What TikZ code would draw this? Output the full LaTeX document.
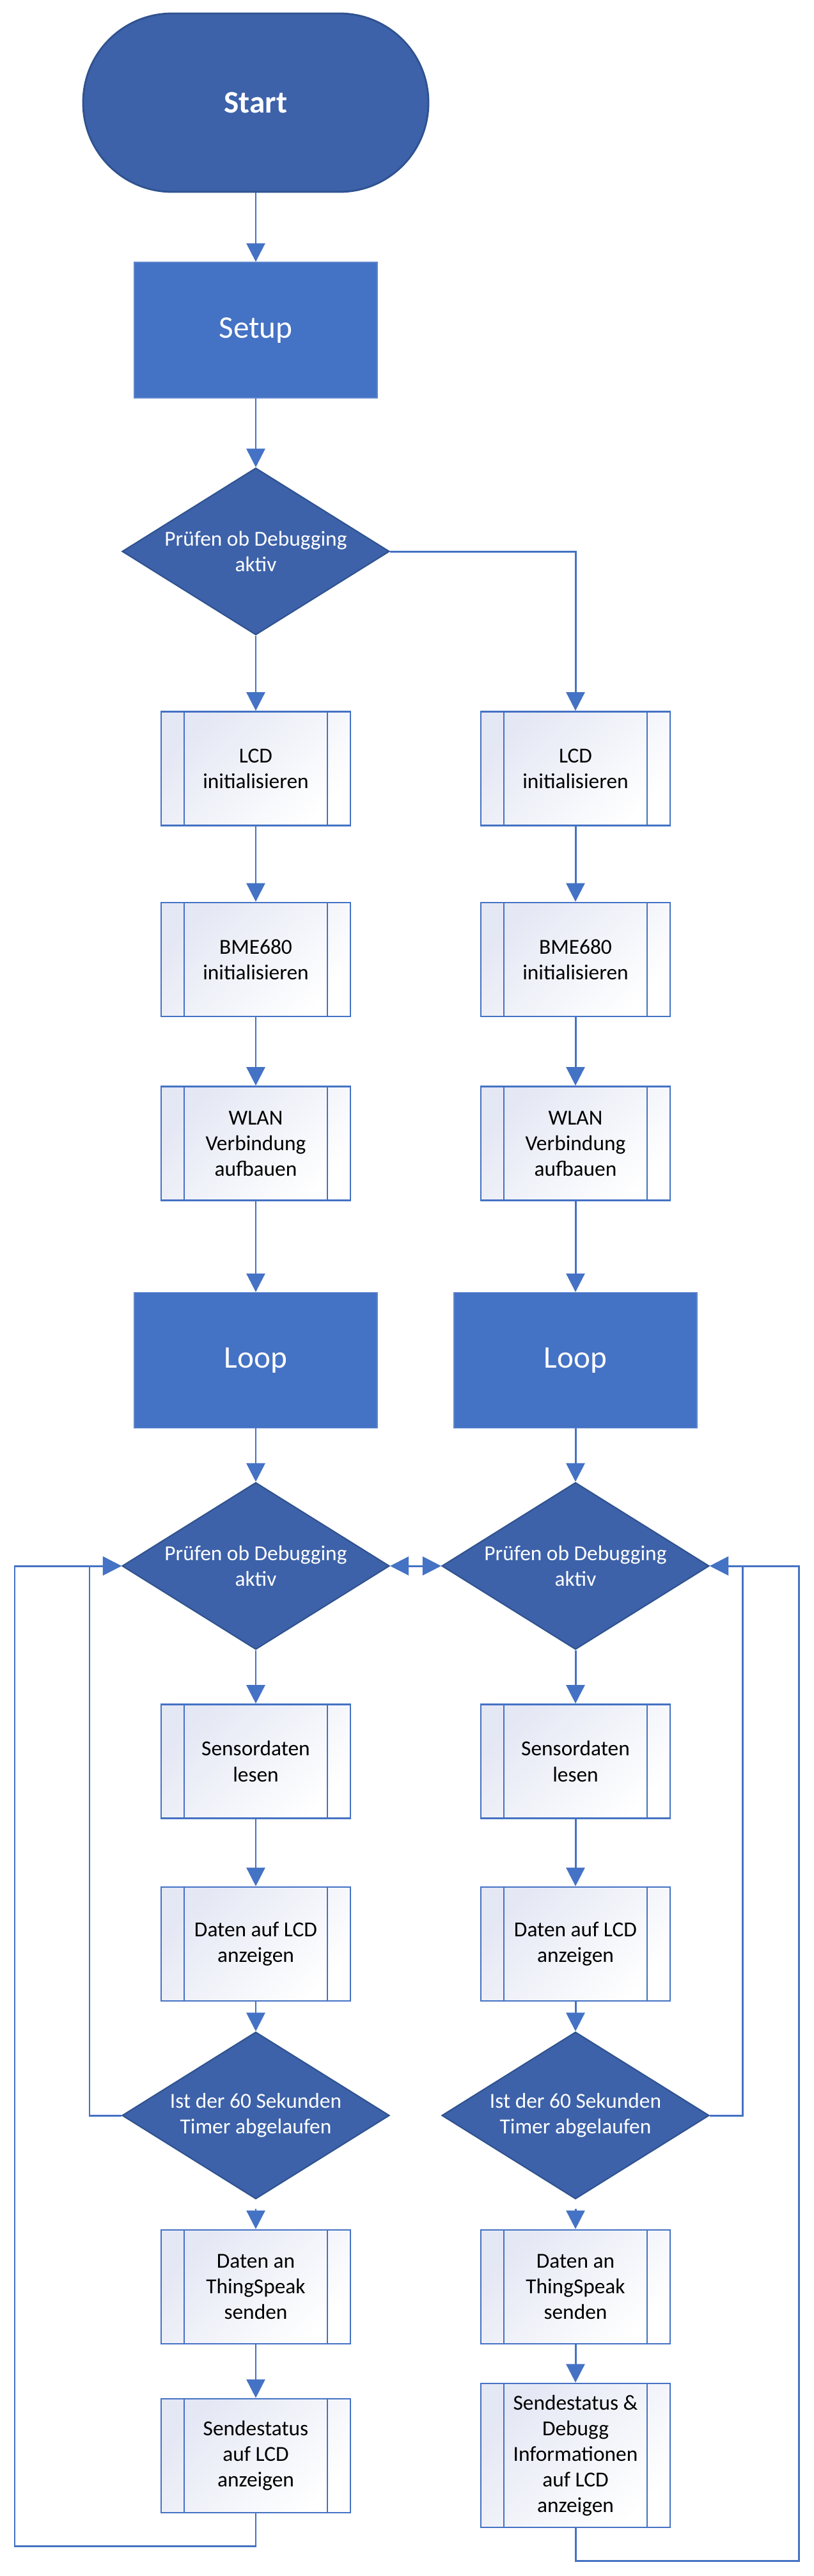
\documentclass[tikz,border=0pt]{standalone}
\usepackage{fontspec}
\setmainfont{Carlito}
\usetikzlibrary{shapes.geometric,arrows.meta}
\definecolor{flowline}{RGB}{68,114,196}
\definecolor{flowdark}{RGB}{61,98,169}
\definecolor{flowedge}{RGB}{47,82,143}
\definecolor{subfill}{RGB}{228,231,244}
\tikzset{
  terminal/.style={rectangle,rounded corners=1.39cm,draw=flowedge,line width=.8pt,
    fill=flowdark,text=white,font=\fontsize{14}{17}\selectfont\bfseries,
    minimum width=5.4cm,minimum height=2.79cm},
  bigbox/.style={rectangle,draw=flowline!85!white,line width=.4pt,fill=flowline,
    text=white,font=\fontsize{14}{17}\selectfont,
    minimum width=3.8cm,minimum height=2.12cm},
  decision/.style={diamond,aspect=1.6,draw=flowedge,line width=.6pt,fill=flowdark,
    text=white,align=center,inner sep=0pt,minimum width=4.18cm,minimum height=2.61cm},
  subproc/.style={rectangle,draw=flowline,line width=.8pt,top color=subfill,
    bottom color=white,shading angle=45,align=center,
    minimum width=2.96cm,minimum height=1.78cm,
    path picture={
      \draw[flowline,line width=.8pt]
        ([xshift=.36cm]path picture bounding box.north west)--([xshift=.36cm]path picture bounding box.south west)
        ([xshift=-.36cm]path picture bounding box.north east)--([xshift=-.36cm]path picture bounding box.south east);
    }},
  flow/.style={draw=flowline,line width=.85pt,-{Triangle[length=.29cm,width=.29cm]}},
  flowboth/.style={draw=flowline,line width=.85pt,
    {Triangle[length=.29cm,width=.29cm]}-{Triangle[length=.29cm,width=.29cm]}},
}
\begin{document}
\begin{tikzpicture}[x=1cm,y=1cm,font=\fontsize{9.5}{11.4}\selectfont]
  \useasboundingbox (0,0) rectangle (12.72,-40.27);
  % setup part
  \node[terminal] (start) at (4.00,-1.605) {Start};
  \node[bigbox] (setup) at (4.00,-5.16) {Setup};
  \node[decision] (chk) at (4.00,-8.62) {Prüfen ob Debugging\\aktiv};
  \node[subproc] (lcdl) at (4.00,-12.015) {LCD\\initialisieren};
  \node[subproc] (lcdr) at (9.00,-12.015) {LCD\\initialisieren};
  \node[subproc] (bmel) at (4.00,-15.00) {BME680\\initialisieren};
  \node[subproc] (bmer) at (9.00,-15.00) {BME680\\initialisieren};
  \node[subproc] (wlanl) at (4.00,-17.875) {WLAN\\Verbindung\\aufbauen};
  \node[subproc] (wlanr) at (9.00,-17.875) {WLAN\\Verbindung\\aufbauen};
  % loop part
  \node[bigbox] (loopl) at (4.00,-21.265) {Loop};
  \node[bigbox] (loopr) at (9.00,-21.265) {Loop};
  \node[decision] (chkl) at (4.00,-24.48) {Prüfen ob Debugging\\aktiv};
  \node[decision] (chkr) at (9.00,-24.48) {Prüfen ob Debugging\\aktiv};
  \node[subproc] (sensl) at (4.00,-27.535) {Sensordaten\\lesen};
  \node[subproc] (sensr) at (9.00,-27.535) {Sensordaten\\lesen};
  \node[subproc] (anzl) at (4.00,-30.39) {Daten auf LCD\\anzeigen};
  \node[subproc] (anzr) at (9.00,-30.39) {Daten auf LCD\\anzeigen};
  \node[decision] (timl) at (4.00,-33.07) {Ist der 60 Sekunden\\Timer abgelaufen};
  \node[decision] (timr) at (9.00,-33.07) {Ist der 60 Sekunden\\Timer abgelaufen};
  \node[subproc] (tsl) at (4.00,-35.75) {Daten an\\ThingSpeak\\senden};
  \node[subproc] (tsr) at (9.00,-35.75) {Daten an\\ThingSpeak\\senden};
  \node[subproc] (sendl) at (4.00,-38.39) {Sendestatus\\auf LCD\\anzeigen};
  \node[subproc,minimum height=2.25cm] (sendr) at (9.00,-38.385)
    {Sendestatus \&\\Debugg\\Informationen\\auf LCD\\anzeigen};
  \coordinate (innl) at (1.40,-33.07);
  \coordinate (outl) at (0.23,-39.80);
  \coordinate (innr) at (11.61,-33.07);
  \coordinate (outr) at (12.49,-40.03);
  % connectors
  \draw[flow] (start)--(setup);
  \draw[flow] (setup)--(chk);
  \draw[flow] (chk)--(lcdl);
  \draw[flow] (chk.east)-|(lcdr);
  \draw[flow] (lcdl)--(bmel);
  \draw[flow] (lcdr)--(bmer);
  \draw[flow] (bmel)--(wlanl);
  \draw[flow] (bmer)--(wlanr);
  \draw[flow] (wlanl)--(loopl);
  \draw[flow] (wlanr)--(loopr);
  \draw[flow] (loopl)--(chkl);
  \draw[flow] (loopr)--(chkr);
  \draw[flowboth] (chkl.east)--(chkr.west);
  \draw[flow] (chkl)--(sensl);
  \draw[flow] (chkr)--(sensr);
  \draw[flow] (sensl)--(anzl);
  \draw[flow] (sensr)--(anzr);
  \draw[flow] (anzl)--(timl);
  \draw[flow] (anzr)--(timr);
  \draw[flow,shorten <=.14cm] (timl)--(tsl);
  \draw[flow,shorten <=.14cm] (timr)--(tsr);
  \draw[flow] (tsl)--(sendl);
  \draw[flow] (tsr)--(sendr);
  % back to the check
  \draw[flow] (timl.west)--(innl)|-(chkl.west);
  \draw[flow] (sendl.south)|-(outl)|-(chkl.west);
  \draw[flow] (timr.east)--(innr)|-(chkr.east);
  \draw[flow] (sendr.south)|-(outr)|-(chkr.east);
\end{tikzpicture}
\end{document}
